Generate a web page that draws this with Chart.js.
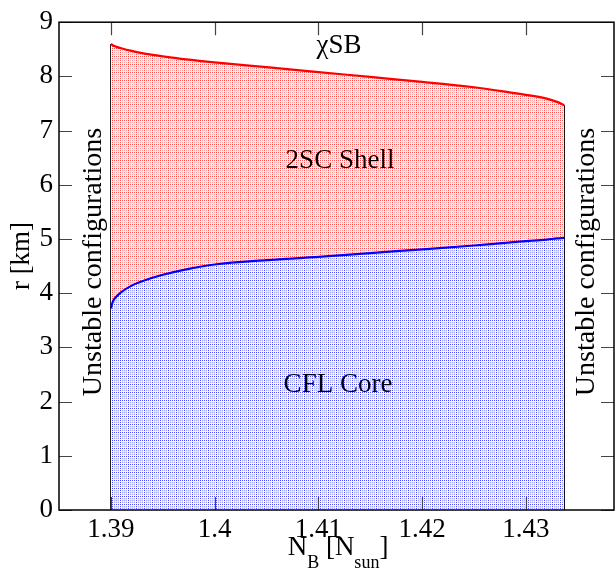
<!DOCTYPE html>
<html>
<head>
<meta charset="utf-8">
<script src="https://cdn.jsdelivr.net/npm/chart.js@4.4.1/dist/chart.umd.min.js"></script>
<style>
  body { margin: 0; background: #fff; }
  #wrap { width: 616px; height: 569px; }
</style>
</head>
<body>
<div id="wrap"><canvas id="phase" width="616" height="569"></canvas></div>
<script>
// values
const nB     = [1.39, 1.3902, 1.3905, 1.391, 1.392, 1.393, 1.395, 1.3975, 1.40, 1.405, 1.41, 1.415, 1.42, 1.425, 1.428, 1.43, 1.432, 1.433, 1.4337];
const rCore  = [3.72, 3.85, 3.93, 4.02, 4.14, 4.22, 4.34, 4.45, 4.53, 4.61, 4.67, 4.74, 4.81, 4.88, 4.93, 4.96, 4.99, 5.01, 5.02];
const rShell = [8.60, 8.57, 8.55, 8.52, 8.47, 8.43, 8.37, 8.31, 8.26, 8.17, 8.08, 7.99, 7.90, 7.80, 7.72, 7.66, 7.59, 7.53, 7.47];
const xTicks = [1.39, 1.40, 1.41, 1.42, 1.43];
const xTickLabels = ['1.39', '1.4', '1.41', '1.42', '1.43'];
const yTicks = [0, 1, 2, 3, 4, 5, 6, 7, 8, 9];

const FONT = '"Liberation Serif", "Times New Roman", serif';

// dotted halftone fill like the original
function makePattern(r, g, b) {
  const c = document.createElement('canvas');
  c.width = 8; c.height = 8;
  const p = c.getContext('2d');
  p.fillStyle = '#fff';
  p.fillRect(0, 0, 8, 8);
  p.fillStyle = `rgba(${r},${g},${b},0.10)`;
  p.fillRect(2, 2, 5, 5);
  for (let x = 0; x < 8; x += 2) {
    for (let y = 0; y < 8; y += 2) {
      const edge = x === 0 || y === 0;
      p.fillStyle = `rgba(${r},${g},${b},${edge ? 0.7 : 0.25})`;
      p.fillRect(x, y, 1, 1);
    }
  }
  return p.createPattern(c, 'repeat');
}

const toPts = ys => nB.map((x, i) => ({ x: x, y: ys[i] }));
const last = nB.length - 1;

const decor = {
  id: 'decor',
  afterDraw(chart) {
    const { ctx, chartArea: a, scales } = chart;
    const xs = scales.x, ys = scales.y;
    ctx.save();
    // inward ticks
    ctx.lineWidth = 1.2;
    ctx.strokeStyle = '#444';
    ctx.beginPath();
    xTicks.forEach(v => {
      const px = Math.round(xs.getPixelForValue(v)) + 0.5;
      ctx.moveTo(px, a.bottom); ctx.lineTo(px, a.bottom - 13);
      ctx.moveTo(px, a.top); ctx.lineTo(px, a.top + 13);
    });
    yTicks.forEach(v => {
      const py = Math.round(ys.getPixelForValue(v)) + 0.5;
      ctx.moveTo(a.left, py); ctx.lineTo(a.left + 13, py);
      ctx.moveTo(a.right, py); ctx.lineTo(a.right - 13, py);
    });
    ctx.stroke();
    // frame
    ctx.strokeStyle = '#000';
    ctx.lineWidth = 1.5;
    ctx.strokeRect(a.left, a.top, a.right - a.left, a.bottom - a.top);

    ctx.fillStyle = '#000';
    ctx.textAlign = 'center';
    ctx.textBaseline = 'alphabetic';
    ctx.font = '27px ' + FONT;
    ctx.fillText('\u03C7SB', 339, 53);
    ctx.fillText('2SC Shell', 340, 168);
    ctx.fillText('CFL Core', 338, 392);

    // rotated side labels
    const vtext = (t, x, y, size) => {
      ctx.save();
      ctx.translate(x, y);
      ctx.rotate(-Math.PI / 2);
      ctx.font = size + 'px ' + FONT;
      ctx.textBaseline = 'middle';
      ctx.fillText(t, 0, 0);
      ctx.restore();
    };
    vtext('Unstable configurations', 94, 262, 28);
    vtext('Unstable configurations', 587, 262, 28);
    vtext('r [km]', 22, 256, 27);

    // x title with subscripts
    const parts = [['N', 0, 27], ['B', 13, 18], [' [N', 0, 27], ['sun', 13, 18], [']', 0, 27]];
    let w = 0;
    parts.forEach(p => { ctx.font = p[2] + 'px ' + FONT; w += ctx.measureText(p[0]).width; });
    let x = 338 - w / 2;
    ctx.textAlign = 'left';
    parts.forEach(p => {
      ctx.font = p[2] + 'px ' + FONT;
      ctx.fillText(p[0], x, 555 + p[1]);
      x += ctx.measureText(p[0]).width;
    });
    ctx.restore();
  }
};

const ctx = document.getElementById('phase').getContext('2d');
const chart = new Chart(ctx, {
  type: 'line',
  data: {
    datasets: [
      {
        label: 'CFL Core',
        data: toPts(rCore),
        borderColor: '#0000ff',
        borderWidth: 2.2,
        backgroundColor: makePattern(0, 0, 255),
        fill: 'origin',
        pointRadius: 0,
        cubicInterpolationMode: 'monotone'
      },
      {
        label: '2SC Shell',
        data: toPts(rShell),
        borderColor: '#ff0000',
        borderWidth: 2.2,
        backgroundColor: makePattern(255, 0, 0),
        fill: '-1',
        pointRadius: 0,
        cubicInterpolationMode: 'monotone'
      },
      {
        label: 'left edge',
        data: [{ x: nB[0], y: 0 }, { x: nB[0], y: rShell[0] }],
        borderColor: '#000',
        borderWidth: 1.5,
        pointRadius: 0,
        fill: false
      },
      {
        label: 'right edge',
        data: [{ x: nB[last], y: 0 }, { x: nB[last], y: rShell[last] }],
        borderColor: '#000',
        borderWidth: 1.5,
        pointRadius: 0,
        fill: false
      }
    ]
  },
  options: {
    responsive: false,
    animation: false,
    layout: { padding: { top: 17, right: 2, left: 0, bottom: 0 } },
    plugins: {
      legend: { display: false },
      tooltip: { enabled: false }
    },
    scales: {
      x: {
        type: 'linear',
        min: 1.385,
        max: 1.4385,
        afterFit: s => { s.height = 59; },
        afterBuildTicks: s => { s.ticks = xTicks.map(v => ({ value: v })); },
        grid: { display: false, drawTicks: false },
        border: { display: false },
        ticks: {
          color: '#000',
          padding: 4,
          maxRotation: 0,
          font: { family: FONT, size: 27 },
          callback: v => xTickLabels[xTicks.indexOf(v)]
        }
      },
      y: {
        min: 0,
        max: 9,
        afterFit: s => { s.width = 59; },
        afterBuildTicks: s => { s.ticks = yTicks.map(v => ({ value: v })); },
        grid: { display: false, drawTicks: false },
        border: { display: false },
        ticks: {
          color: '#000',
          padding: 6,
          font: { family: FONT, size: 27 }
        }
      }
    }
  },
  plugins: [decor]
});
</script>
</body>
</html>
